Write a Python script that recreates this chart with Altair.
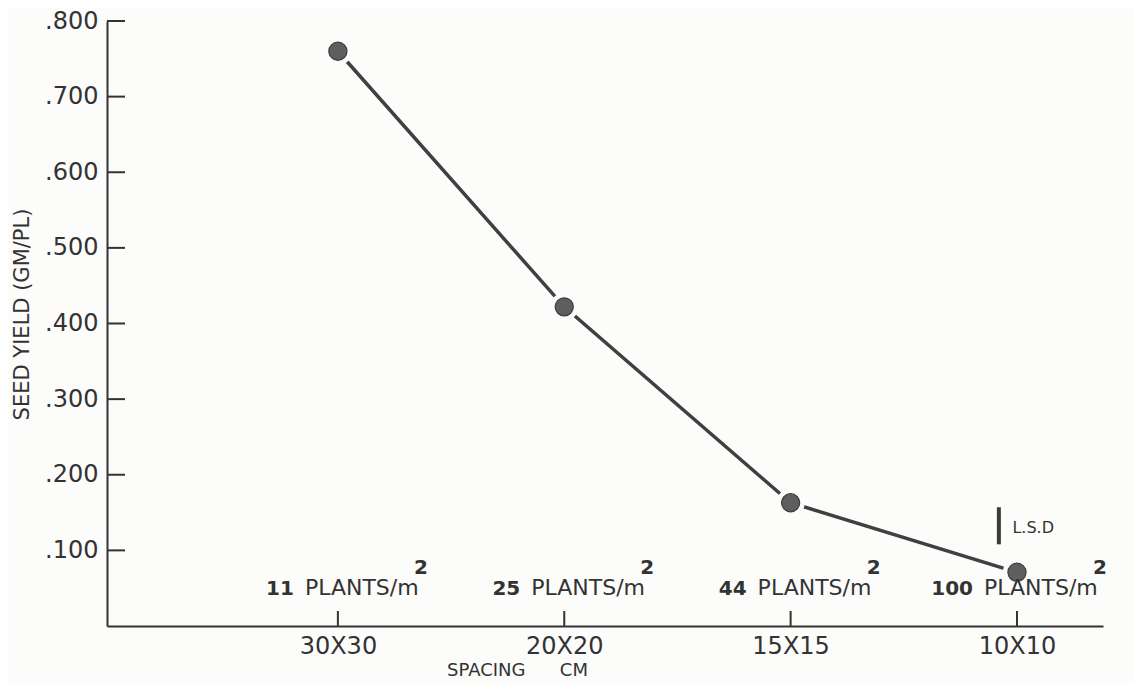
import altair as alt
import pandas as pd

# ---- data ----
spacing = ["30X30", "20X20", "15X15", "10X10"]
positions = [1, 2, 3, 4]
plants = ["11", "25", "44", "100"]
seed_yield = [0.760, 0.422, 0.163, 0.071]
y_ticks = [0.1, 0.2, 0.3, 0.4, 0.5, 0.6, 0.7, 0.8]
lsd_x = [3.92]
lsd_low = [0.108]
lsd_high = [0.157]
lsd_label_x = [3.98]
lsd_label_y = [0.130]

FONT = "DejaVu Sans"
INK = "#333333"
LINE = "#404040"
BG = "#fcfcfa"

df = pd.DataFrame({"pos": positions, "spacing": spacing, "plants": plants, "y": seed_yield})
tick_df = pd.DataFrame({"y": y_ticks})
lsd_df = pd.DataFrame({"pos": lsd_x, "y": lsd_low, "hi": lsd_high,
                       "tx": lsd_label_x, "ty": lsd_label_y})

W, H = 996, 605
xscale = alt.Scale(domain=[-0.02, 4.38], nice=False, zero=False)
yscale = alt.Scale(domain=[0, 0.8], nice=False, zero=True)

label_expr = "{" + ",".join(f"'{p}':'{s}'" for p, s in zip(positions, spacing)) + "}[datum.value]"

x_axis = alt.Axis(
    values=positions, labelExpr=label_expr, ticks=False, tickSize=0, grid=False,
    domainColor=INK, domainWidth=2, labelFont=FONT, labelFontSize=24, labelColor=INK,
    labelPadding=8, title="SPACING\u00a0\u00a0\u00a0\u00a0\u00a0\u00a0CM", titleFont=FONT,
    titleFontSize=18, titleFontWeight="normal", titleColor=INK, titleX=410, titleY=49,
    titleBaseline="alphabetic", titleAlign="center",
)
y_axis = alt.Axis(
    values=y_ticks, labelExpr="substring(format(datum.value, '.3f'), 1)", ticks=False,
    tickSize=0, grid=False, domainColor=INK, domainWidth=2, labelFont=FONT,
    labelFontSize=24, labelColor=INK, labelPadding=9, title="SEED YIELD (GM/PL)",
    titleFont=FONT, titleFontSize=21, titleFontWeight="normal", titleColor=INK,
    titleX=-85, titleY=293, titleAngle=-90, titleAlign="center", titleBaseline="middle",
)


def X(field="pos"):
    return alt.X(f"{field}:Q", scale=xscale, axis=x_axis)


def Y(field="y"):
    return alt.Y(f"{field}:Q", scale=yscale, axis=y_axis)


base = alt.Chart(df)

line = base.mark_line(color=LINE, strokeWidth=3.5).encode(x=X(), y=Y())
gaps = base.mark_point(filled=True, shape="circle", size=800, color=BG, opacity=1).encode(
    x=X(), y=Y())
pts = base.mark_point(filled=True, shape="circle", size=330, color="#5e5e5e", opacity=1,
                      stroke="#3c3c3c", strokeWidth=1.2).encode(x=X(), y=Y())

ytick_rules = alt.Chart(tick_df).mark_rule(color=INK, strokeWidth=2).encode(
    y=Y(), x=alt.value(0), x2=alt.value(18),
)
xtick_rules = base.mark_rule(color=INK, strokeWidth=2).encode(
    x=X(), y=alt.value(H), y2=alt.value(H - 15),
)

num_text = base.mark_text(align="right", baseline="alphabetic", dx=-44, font=FONT,
                          fontSize=20, fontWeight="bold", color=INK).encode(
    x=X(), y=alt.value(574), text="plants:N")
plant_text = base.mark_text(align="left", baseline="alphabetic", dx=-33, font=FONT,
                            fontSize=22, color=INK).encode(
    x=X(), y=alt.value(574), text=alt.value("PLANTS/m"))
sup_text = base.mark_text(align="center", baseline="alphabetic", dx=83, font=FONT,
                          fontSize=20, fontWeight="bold", color=INK).encode(
    x=X(), y=alt.value(553), text=alt.value("2"))

lsd_bar = alt.Chart(lsd_df).mark_rule(color="#3a3a3a", strokeWidth=4).encode(
    x=X(), y=Y(), y2="hi:Q",
)
lsd_text = alt.Chart(lsd_df).mark_text(align="left", baseline="middle", font=FONT,
                                       fontSize=16, color=INK).encode(
    x=X("tx"), y=Y("ty"), text=alt.value("L.S.D"),
)

chart = alt.layer(
    line, gaps, pts, ytick_rules, xtick_rules, num_text, plant_text, sup_text, lsd_bar, lsd_text
).properties(
    width=W, height=H, background=BG,
    autosize=alt.AutoSizeParams(type="none"),
    padding={"left": 99, "top": 13, "right": 30, "bottom": 57},
).configure_view(stroke=None)

chart.save("out.html", embed_options={"renderer": "svg", "actions": False})
